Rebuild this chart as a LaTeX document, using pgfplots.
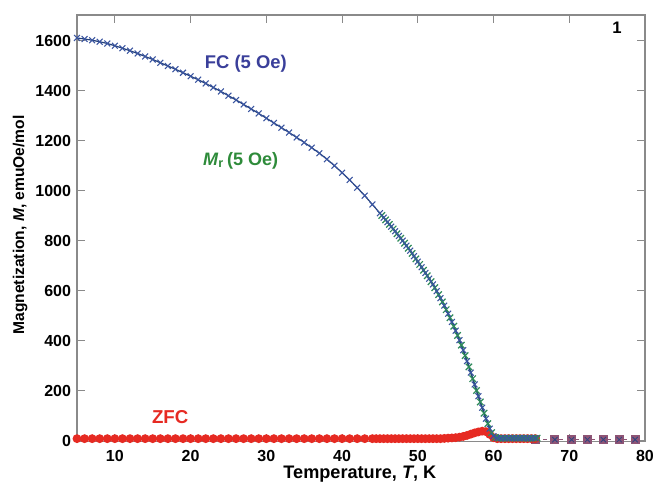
\documentclass[border=0pt]{standalone}
\usepackage{pgfplots}
\pgfplotsset{compat=1.18}
\usepackage{fontspec}
\setmainfont{Liberation Sans}
\definecolor{fcblue}{HTML}{3A55A0}
\definecolor{fcline}{HTML}{23407A}
\definecolor{mrgreen}{HTML}{2E8B5A}
\definecolor{zfcred}{HTML}{E62A22}
\definecolor{tailc}{HTML}{8E5475}
\definecolor{axgray}{HTML}{8A8A8A}
\definecolor{fctext}{HTML}{3A3F9A}
\definecolor{mrtext}{HTML}{2E8B3A}
\begin{document}
\begin{tikzpicture}
\useasboundingbox (-57.75pt,-31.5pt) rectangle (432.75pt,331.25pt);
\begin{axis}[
  scale only axis, width=426pt, height=320pt,
  xmin=5, xmax=80, ymin=-4, ymax=1703,
  xtick={10,20,...,80}, ytick={0,200,...,1600},
  tick align=inside, major tick length=6pt,
  every tick/.style={axgray, line width=0.8pt},
  axis line style={axgray, line width=0.8pt},
  /pgf/number format/assume math mode=true,
  /pgf/number format/1000 sep={},
  scaled ticks=false,
  ticklabel style={font=\bfseries\fontsize{12}{14}\selectfont},
  xticklabel style={yshift=-3pt},
  yticklabel style={xshift=-1pt},
  xlabel={\bfseries Temperature, \textit{T}, K},
  ylabel={\bfseries Magnetization, \textit{M}, emuOe/mol},
  xlabel style={font=\bfseries\fontsize{13.6}{15}\selectfont, at={(axis description cs:0.498,-0.075)}, anchor=center},
  ylabel style={font=\bfseries\fontsize{11.7}{13}\selectfont, at={(axis description cs:-0.1,0.508)}, anchor=center},
  clip=false,
]
% tail (high T)
\addplot[tailc, dashed, line width=0.9pt, mark=square*, mark size=3pt, mark options={solid, fill=tailc}]
 coordinates {(65.5,4) (68.1,4) (70.3,4) (72.4,4) (74.5,4) (76.6,4) (78.7,4)};
\addplot[fcblue!80!black, only marks, mark=x, mark size=2.8pt, line width=0.6pt]
 coordinates {(68.1,4) (70.3,4) (72.4,4) (74.5,4) (76.6,4) (78.7,4)};
% ZFC
\addplot[zfcred, line width=1pt, mark=*, mark size=2.8pt, mark options={fill=zfcred, draw=zfcred}]
 coordinates {(5,8) (6,8) (7,8) (8,8) (9,8) (10,8) (11,8) (12,8) (13,8) (14,8) (15,8) (16,8) (17,8) (18,8) (19,8) (20,8) (21,8) (22,8) (23,8) (24,8) (25,8) (26,8) (27,8) (28,8) (29,8) (30,8) (31,8) (32,8) (33,8) (34,8) (35,8) (36,8) (37,8) (38,8) (39,8) (40,8) (41,8) (42,8) (43,8) (44,8)
 (44.5,8) (45,8) (45.5,8) (46,8) (46.5,8) (47,8) (47.5,8) (48,8) (48.5,8) (49,8) (49.5,8) (50,8) (50.5,8) (51,8) (51.5,8) (52,8) (52.5,8) (53,8) (53.5,9) (54,10) (54.5,11) (55,12) (55.5,14) (56,17) (56.5,21) (57,26) (57.5,31) (58,35) (58.5,38) (59,36) (59.5,25) (60,12) (60.5,8) (61,8) (61.5,8) (62,8) (62.5,8) (63,8) (63.5,8) (64,8) (64.5,8) (65,8) (65.5,8)};
% Mr
\addplot[mrgreen, line width=1.2pt, mark=x, mark size=3.4pt, mark options={line width=0.9pt}]
 coordinates {(45.25,901) (45.75,883) (46.25,865) (46.75,847) (47.25,828) (47.75,810) (48.25,790) (48.75,770) (49.25,749) (49.75,727) (50.25,705) (50.75,682) (51.25,660) (51.75,636) (52.25,612) (52.75,584) (53.25,555) (53.75,524) (54.25,492) (54.75,458) (55.25,421) (55.75,382) (56.25,340) (56.75,295) (57.25,248) (57.75,201) (58.25,155) (58.75,110) (59.25,68) (59.75,32) (60.25,13) (60.75,10) (61.25,10) (61.75,10) (62.25,10) (62.75,10) (63.25,10) (63.75,10) (64.25,10) (64.75,10) (65.25,10) (65.75,10)};
% FC
\addplot[fcline, line width=0.9pt, mark=x, mark size=3.1pt, mark options={fcblue, line width=0.8pt}]
 coordinates {(5,1611) (6,1607) (7,1602) (8,1596) (9,1589) (10,1580) (11,1570) (12,1560) (13,1549) (14,1537) (15,1525) (16,1512) (17,1499) (18,1486) (19,1472) (20,1458) (21,1444) (22,1429) (23,1413) (24,1397) (25,1380) (26,1363) (27,1345) (28,1327) (29,1309) (30,1290) (31,1271) (32,1252) (33,1233) (34,1213) (35,1193) (36,1172) (37,1150) (38,1126) (39,1100) (40,1072) (41,1043) (42,1012) (43,980) (44,945) (45,910)
 (45.5,892) (46,874) (46.5,856) (47,838) (47.5,819) (48,800) (48.5,780) (49,760) (49.5,738) (50,716) (50.5,694) (51,671) (51.5,648) (52,625) (52.5,598) (53,570) (53.5,540) (54,508) (54.5,475) (55,440) (55.5,402) (56,362) (56.5,318) (57,272) (57.5,225) (58,178) (58.5,132) (59,88) (59.5,48) (60,18) (60.5,10) (61,10) (61.5,10) (62,10) (62.5,10) (63,10) (63.5,10) (64,10) (64.5,10) (65,10) (65.5,10)};
\node[fctext, font=\bfseries\fontsize{13.8}{15}\selectfont] at (axis cs:27.3,1508) {FC (5 Oe)};
\node[mrtext, font=\bfseries\fontsize{13.5}{15}\selectfont] at (axis cs:26.6,1121) {\textit{M}\textsubscript{r}\,(5 Oe)};
\node[zfcred, font=\bfseries\fontsize{14}{15}\selectfont] at (axis cs:17.3,96) {ZFC};
\node[black, font=\bfseries\fontsize{12.5}{14}\selectfont] at (axis cs:76.3,1652) {1};
\end{axis}
\end{tikzpicture}
\end{document}
